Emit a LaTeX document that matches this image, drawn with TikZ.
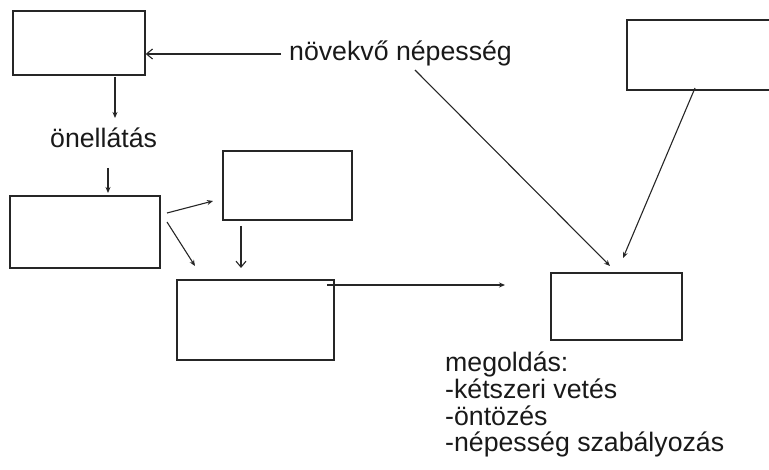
\documentclass[tikz,border=0pt]{standalone}
\usepackage{fontspec}
\setmainfont{Liberation Sans}
\usetikzlibrary{arrows.meta}
\begin{document}
\begin{tikzpicture}[x=1pt,y=-1pt,
  box/.style={draw=black!85,line width=1.4pt,inner sep=0pt,fill=none},
  lbl/.style={inner sep=0pt,anchor=base west,text=black!90,font=\fontsize{26.7}{30}\selectfont},
  fl/.style={line width=1.1pt,draw=black!85,-{Stealth[length=6pt,width=5pt]}},
  op/.style={line width=1.1pt,draw=black!85,-{Straight Barb[length=6pt,width=10pt]}}]
\useasboundingbox (0,0) rectangle (769,470);
\clip (0,0) rectangle (769,470);
% boxes
\node[box,minimum width=132pt,minimum height=64pt] (A) at (79,43) {};
\node[box,minimum width=150pt,minimum height=72pt] (B) at (85,232) {};
\node[box,minimum width=129pt,minimum height=69pt] (C) at (287.5,185.5) {};
\node[box,minimum width=157pt,minimum height=80pt] (D) at (255.5,320) {};
\node[box,minimum width=131pt,minimum height=67pt] (E) at (616.5,306.5) {};
\node[box,minimum width=173pt,minimum height=70pt] (F) at (713.5,55) {};
% texts
\node[lbl] (N) at (289,61) {növekvő népesség};
\node[lbl] (O) at (50,148) {önellátás};
\node[lbl] (M1) at (445,372) {megoldás:};
\node[lbl] (M2) at (445,399) {-kétszeri vetés};
\node[lbl] (M3) at (445,425) {-öntözés};
\node[lbl] (M4) at (445,452) {-népesség szabályozás};
% free connector ends
\coordinate (n0) at (281,54);
\coordinate (a0) at (115,77);
\coordinate (a1) at (115,118);
\coordinate (o0) at (108,168);
\coordinate (o1) at (108,193);
\coordinate (b0) at (167,213);
\coordinate (c1) at (213,201);
\coordinate (b1) at (167,222);
\coordinate (d1) at (195,266);
\coordinate (c0) at (241,226);
\coordinate (d2) at (241,268);
\coordinate (d0) at (327,285);
\coordinate (e1) at (505,285);
\coordinate (n1) at (415,70);
\coordinate (e2) at (610,266);
\coordinate (f0) at (695,88);
\coordinate (e3) at (623,258);
% connectors
\draw[op] (n0) -- (n0 -| A.east);
\draw[fl] (a0) -- (a1);
\draw[fl] (o0) -- (o1);
\draw[fl] (b0) -- (c1);
\draw[fl] (b1) -- (d1);
\draw[op] (c0) -- (d2);
\draw[fl] (d0) -- (e1);
\draw[fl] (n1) -- (e2);
\draw[fl] (f0) -- (e3);
\end{tikzpicture}
\end{document}
